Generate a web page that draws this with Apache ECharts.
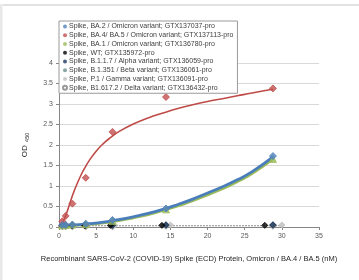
<!DOCTYPE html>
<html><head><meta charset="utf-8">
<script src="https://cdn.jsdelivr.net/npm/echarts@6/dist/echarts.min.js"></script>
<style>html,body{margin:0;padding:0;background:#fff}#c{width:359px;height:280px}</style>
</head><body><div id="c"></div>
<script>
// concentrations (nM)
const xConc = [0.45, 0.9, 1.8, 3.6, 7.2, 14.4, 28.8];
const xConcWT = [0.43, 0.87, 1.73, 3.46, 6.93, 13.85, 27.7];
const xConcP1 = [0.47, 0.94, 1.88, 3.75, 7.5, 15, 30];
// measured OD450
const ba2Y = [0.05, 0.05, 0.06, 0.08, 0.17, 0.45, 1.73];
const ba45Y = [0.14, 0.27, 0.57, 1.2, 2.32, 3.17, 3.38];
const ba1Y = [0.04, 0.05, 0.06, 0.07, 0.15, 0.43, 1.66];
const wtY = [0.03, 0.03, 0.03, 0.03, 0.04, 0.04, 0.04];
const alphaY = [0.04, 0.04, 0.04, 0.04, 0.04, 0.05, 0.05];
const betaY = [0.04, 0.04, 0.04, 0.04, 0.04, 0.04, 0.05];
const gammaY = [0.04, 0.04, 0.04, 0.04, 0.04, 0.05, 0.05];
const deltaY = [0.03, 0.03, 0.03, 0.03, 0.03, 0.04, 0.04];
// fitted trend curves
const redFitX = [0, 0.5, 1, 1.5, 2, 2.5, 3, 3.5, 4, 5, 6, 7, 8, 10, 12, 14, 16, 18, 20, 22, 24, 26, 28.8];
const redFitY = [0, 0.12, 0.33, 0.6, 0.86, 1.08, 1.28, 1.45, 1.6, 1.85, 2.04, 2.19, 2.32, 2.51, 2.66, 2.78, 2.89, 2.98, 3.06, 3.13, 3.2, 3.27, 3.36];
const blueFitX = [0, 2, 4, 6, 8, 10, 12, 14, 16, 18, 20, 22, 24, 26, 28.8];
const blueFitY = [0.04, 0.05, 0.08, 0.12, 0.18, 0.25, 0.33, 0.43, 0.55, 0.68, 0.83, 0.98, 1.15, 1.35, 1.71];
const greenFitY = [0.03, 0.04, 0.06, 0.1, 0.15, 0.22, 0.3, 0.4, 0.51, 0.64, 0.78, 0.93, 1.1, 1.3, 1.65];
const flatFitX = [0, 30];
const flatFitY = [0.03, 0.03];
const names = [
  'Spike, BA.2 / Omicron variant; GTX137037-pro',
  'Spike, BA.4/ BA.5 / Omicron variant; GTX137113-pro',
  'Spike, BA.1 / Omicron variant; GTX136780-pro',
  'Spike, WT; GTX135972-pro',
  'Spike, B.1.1.7 / Alpha variant; GTX136059-pro',
  'Spike, B.1.351 / Beta variant; GTX136061-pro',
  'Spike, P.1 / Gamma variant; GTX136091-pro',
  'Spike, B1.617.2 / Delta variant; GTX136432-pro'
];
const colors = ['#4F81BD', '#C0504D', '#9BBB59', '#000000', '#1F3A5F', '#6F8F8F', '#BFBFBF', '#7F7F7F'];
const symbols = ['diamond', 'diamond', 'triangle', 'diamond', 'diamond', 'diamond', 'diamond', 'emptyDiamond'];
const xs = [xConc, xConc, xConc, xConcWT, xConc, xConc, xConcP1, xConc];
const ys = [ba2Y, ba45Y, ba1Y, wtY, alphaY, betaY, gammaY, deltaY];

const zip = (a, b) => a.map((v, i) => [v, b[i]]);
const series = [];
series.push({type:'line', name:'flatfit', data: zip(flatFitX, flatFitY), symbol:'none', lineStyle:{color:'#8C8C8C', width:1.2, type:[2,1]}, z:1, silent:true});
series.push({type:'line', name:'greenfit', data: zip(blueFitX, greenFitY), smooth:true, symbol:'none', lineStyle:{color:'#9BBB59', width:2.5}, z:2, silent:true});
series.push({type:'line', name:'bluefit', data: zip(blueFitX, blueFitY), smooth:true, symbol:'none', lineStyle:{color:'#4A7EBB', width:2.8}, z:3, silent:true});
series.push({type:'line', name:'redfit', data: zip(redFitX, redFitY), smooth:true, symbol:'none', lineStyle:{color:'#BE4B48', width:1.6}, z:3, silent:true});
for (let i = 7; i >= 0; i--) {
  series.push({type:'scatter', name:names[i], data: zip(xs[i], ys[i]), symbol:symbols[i],
    symbolSize: i < 3 ? 7 : 6, itemStyle:{color:colors[i], borderColor: i===7 ? '#7F7F7F' : colors[i]}, z:5});
}

const chart = echarts.init(document.getElementById('c'), null, {renderer:'canvas'});
chart.setOption({
  animation:false,
  backgroundColor:'#fff',
  graphic:[
    {type:'rect', shape:{x:3, y:4, width:356, height:2}, style:{fill:'#E2E2E2'}, silent:true},
    {type:'rect', shape:{x:0, y:4, width:2.5, height:276}, style:{fill:'#E8E8E8'}, silent:true}
  ],
  grid:{left:59, right:40, top:63, bottom:53},
  legend:{
    orient:'vertical', left:59, top:21,
    data: names.map((n, i) => ({name:n, icon: i===7 ? 'emptyCircle' : 'circle'})),
    itemWidth:4, itemHeight:4, itemGap:1.75,
    padding:[2,4,2,3],
    borderColor:'#9A9A9A', borderWidth:1, backgroundColor:'#fff',
    textStyle:{fontSize:7, color:'#404040', fontFamily:'Liberation Sans', lineHeight:7, padding:[0,0,0,-3]},
    selectedMode:false, z:10
  },
  xAxis:{
    type:'value', min:0, max:35, interval:5,
    name:'Recombinant SARS-CoV-2 (COVID-19) Spike (ECD) Protein, Omicron / BA.4 / BA.5 (nM)',
    nameLocation:'middle', nameGap:28,
    nameTextStyle:{fontSize:7.5, color:'#262626', fontFamily:'Liberation Sans'},
    axisLine:{lineStyle:{color:'#868686'}},
    axisTick:{show:true, length:3, lineStyle:{color:'#868686'}},
    axisLabel:{fontSize:7, color:'#595959', margin:6, fontFamily:'Liberation Sans'},
    splitLine:{show:false}
  },
  yAxis:{
    type:'value', min:0, max:4, interval:0.5,
    name:'{a|OD} {b|450}',
    nameLocation:'middle', nameGap:28, nameRotate:90,
    nameTextStyle:{rich:{a:{fontSize:8, color:'#262626', fontFamily:'Liberation Sans'}, b:{fontSize:5.5, color:'#262626', fontFamily:'Liberation Sans', padding:[4,0,0,0]}}},
    axisLine:{show:true, lineStyle:{color:'#868686'}},
    axisTick:{show:true, length:3, lineStyle:{color:'#868686'}},
    axisLabel:{fontSize:7, color:'#595959', margin:6, fontFamily:'Liberation Sans'},
    splitLine:{show:true, lineStyle:{color:'#D9D9D9', width:1}}
  },
  series: series
});
</script></body></html>
